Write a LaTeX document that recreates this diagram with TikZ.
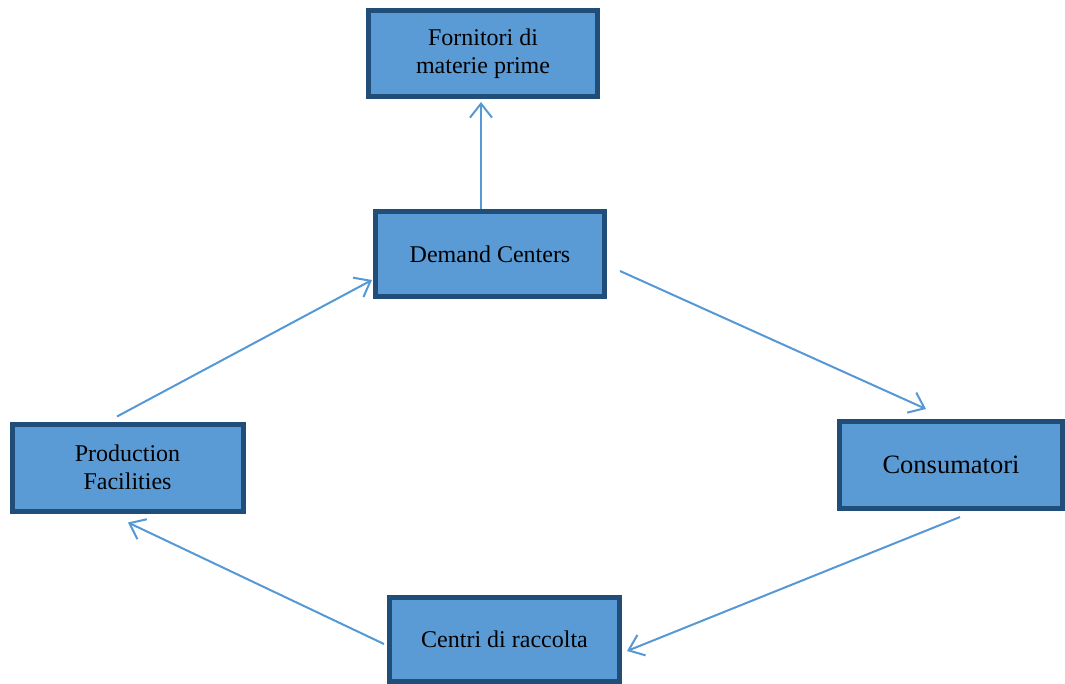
\documentclass[tikz,border=0pt]{standalone}
\usepackage{fontspec}
\setmainfont{Liberation Serif}
\usetikzlibrary{arrows.meta}
\definecolor{boxfill}{RGB}{91,155,213}
\definecolor{boxline}{RGB}{33,78,121}
\definecolor{linkcol}{RGB}{86,152,214}
\tikzset{
  stage/.style={draw=boxline, fill=boxfill, line width=5pt, inner sep=0pt,
    align=center, font=\fontsize{24}{27.7}\selectfont},
  conn/.style={draw=linkcol, line width=2pt,
    -{Straight Barb[length=14pt,width=22pt,line width=2pt]}}
}
\begin{document}
\begin{tikzpicture}[x=1pt,y=-1pt]
\useasboundingbox (0,0) rectangle (1065,684);
% supply chain stages
\node[stage, minimum width=229pt, minimum height=86pt] (F) at (483,53.5) {Fornitori di\\materie prime};
\node[stage, minimum width=229pt, minimum height=85pt] (D) at (490,254) {Demand Centers};
\node[stage, minimum width=223pt, minimum height=87pt,
  font=\fontsize{26.5}{30}\selectfont] (C) at (951,465) {Consumatori};
\node[stage, minimum width=231pt, minimum height=87pt] (P) at (127.5,467.5) {Production\\Facilities};
\node[stage, minimum width=230pt, minimum height=84pt] (R) at (504.5,639.5) {Centri di raccolta};
% flows between stages
\draw[conn] ([xshift=-9pt]D.north) -- ([xshift=-2pt,yshift=-3pt]F.south);
\draw[conn] ([xshift=-10.5pt,yshift=5pt]P.north) -- ([xshift=-1pt,yshift=19pt]D.south west);
\draw[conn] ([xshift=13pt,yshift=-17pt]D.east) -- ([xshift=-25pt,yshift=10pt]C.north);
\draw[conn] ([xshift=9pt,yshift=-6pt]C.south) -- ([xshift=5pt,yshift=-11.5pt]R.east);
\draw[conn] ([xshift=-3pt,yshift=-4.5pt]R.west) -- ([xshift=0.5pt,yshift=-9pt]P.south);
\end{tikzpicture}
\end{document}
